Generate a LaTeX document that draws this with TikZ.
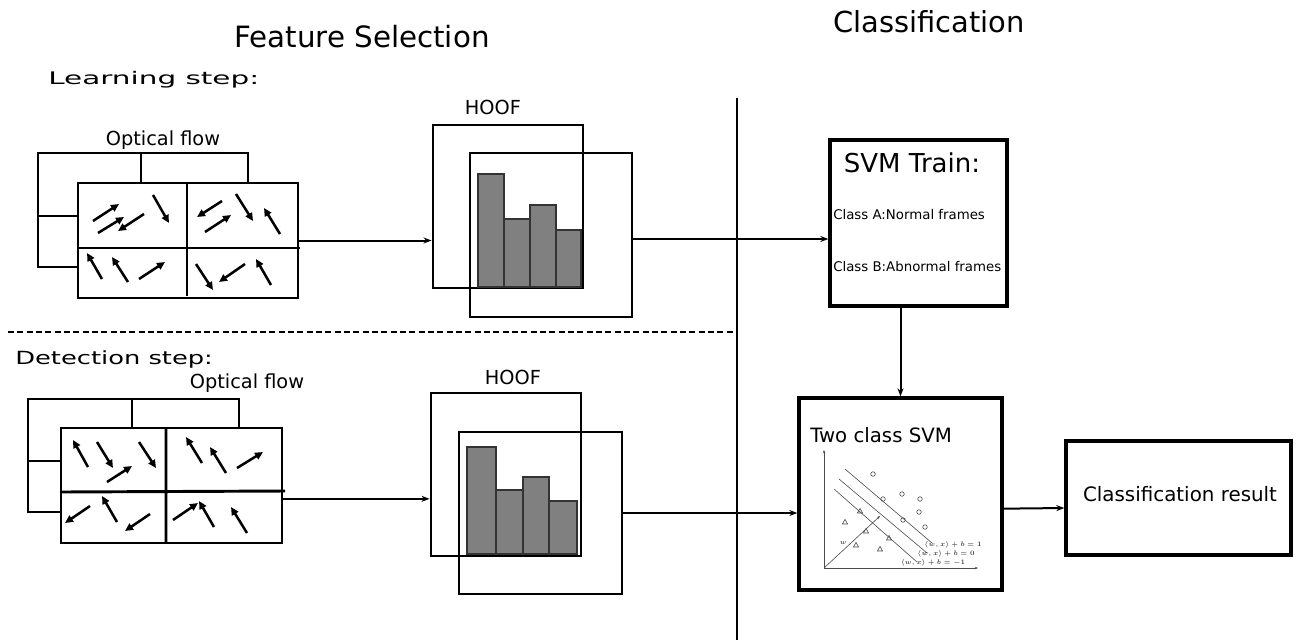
\documentclass[tikz,border=0pt]{standalone}
\usepackage{fontspec}
\setmainfont{DejaVu Sans}
\usetikzlibrary{arrows.meta,fit,calc}
\begin{document}
\begin{tikzpicture}[x=0.75pt,y=-0.75pt,
  hbox/.style={draw,line width=2.2pt,inner sep=0pt},
  frame/.style={hbox,fill=white},
  sbox/.style={draw,line width=2.5pt,inner sep=0pt,fill=white},
  gridline/.style={line width=2.2pt},
  flow/.style={line width=1.9pt,-{Triangle[length=6pt,width=5.5pt]}},
  conn/.style={line width=1.5pt,-{Stealth[length=6pt,width=4.5pt]}},
  bar/.style={draw=black!80,fill=black!50,line width=0.8pt},
  thinl/.style={line width=0.45pt,draw=black!70},
  sep/.style={line width=1.8pt},
  lbl/.style={inner sep=0pt}]
\useasboundingbox (0,0) rectangle (1298,640);

% titles
\node[lbl,font=\fontsize{22pt}{26pt}\selectfont] (tfs) at (362,37) {Feature Selection};
\node[lbl,font=\fontsize{21.7pt}{26pt}\selectfont] (tcl) at (929,22) {Classification};
\node[lbl,anchor=west] (tls) at (48,80) {\scalebox{1.7}[1]{\fontsize{13pt}{15pt}\selectfont Learning step:}};
\node[lbl,anchor=west] (tds) at (15,359) {\scalebox{1.42}[1]{\fontsize{13.6pt}{16pt}\selectfont Detection step:}};

% separators
\draw[sep] (737,98) -- (737,640);
\draw[line width=1.5pt,dash pattern=on 4.5pt off 2.5pt] (8,332) -- (737,332);

% ---------- learning optical flow ----------
\node[lbl,font=\fontsize{14.5pt}{17pt}\selectfont] (tof1) at (163,140) {Optical flow};
\node[hbox,fit={(38,153)(248,267)}] (ob1) {};
\draw[gridline] (141,153) -- (141,183) (38,216) -- (78,216);
\node[frame,fit={(78,183)(298,298)}] (of1) {};
\draw[gridline] (187,183) -- (187,296) (78,248) -- (300,248);
\foreach \a/\b/\c/\d in {93/221/119/204, 98/233/124/217, 144/214/118/231, 153/195/169/223,
  222/201/197/217, 205/232/231/215, 236/194/253/221, 280/234/264/208,
  102/279/87/253, 128/282/112/257, 139/279/165/262,
  196/264/213/290, 245/264/219/282, 271/285/256/259}
  \draw[flow] (\a,\b) -- (\c,\d);

% ---------- learning HOOF ----------
\node[lbl,font=\fontsize{14.5pt}{17pt}\selectfont] (th1) at (493,107) {HOOF};
\node[hbox,fit={(433,125)(583,288)}] (hb1) {};
\node[hbox,fit={(470,153)(632,317)}] (hf1) {};
\draw[bar] (478,287) rectangle (504,174);
\draw[bar] (504,287) rectangle (530,219);
\draw[bar] (530,287) rectangle (556,205);
\draw[bar] (556,287) rectangle (581,230);

% ---------- detection optical flow ----------
\node[lbl,font=\fontsize{14.5pt}{17pt}\selectfont] (tof2) at (247,383) {Optical flow};
\node[hbox,fit={(28,399)(239,512)}] (ob2) {};
\draw[gridline] (132,399) -- (132,428) (28,461) -- (63,461);
\node[frame,fit={(61,428)(282,543)}] (of2) {};
\draw[gridline] (166,428) -- (166,543) (61,492) -- (285,491);
\foreach \a/\b/\c/\d in {88/467/73/440, 97/442/113/468, 107/482/132/466, 139/442/156/468,
  202/463/186/437, 226/473/210/447, 237/468/263/452,
  90/506/65/523, 117/522/102/496, 150/514/125/531,
  173/520/198/503, 214/527/199/501, 247/533/231/507}
  \draw[flow] (\a,\b) -- (\c,\d);

% ---------- detection HOOF ----------
\node[lbl,font=\fontsize{14.5pt}{17pt}\selectfont] (th2) at (513,377) {HOOF};
\node[hbox,fit={(431,393)(581,556)}] (hb2) {};
\node[hbox,fit={(459,432)(622,594)}] (hf2) {};
\draw[bar] (467,554) rectangle (496,447);
\draw[bar] (496,554) rectangle (523,490);
\draw[bar] (523,554) rectangle (549,477);
\draw[bar] (549,554) rectangle (577,501);

% ---------- SVM train ----------
\node[sbox,fit={(830,140)(1007,306)}] (st) {};
\node[lbl,font=\fontsize{19.5pt}{23pt}\selectfont] (tst) at (912,163) {SVM Train:};
\node[lbl,anchor=west,font=\fontsize{10pt}{12pt}\selectfont] (tca) at (833,215) {Class A:Normal frames};
\node[lbl,anchor=west,font=\fontsize{10pt}{12pt}\selectfont] (tcb) at (833,267) {Class B:Abnormal frames};

% ---------- two class SVM ----------
\node[sbox,fit={(799,398)(1002,590)}] (tc) {};
\node[lbl,anchor=west,font=\fontsize{14.8pt}{17pt}\selectfont] (ttc) at (810,435) {Two class SVM};
\draw[thinl,-{Stealth[length=2.5pt,width=2pt]}] (824,568) -- (824,450);
\draw[thinl,-{Stealth[length=2.5pt,width=2pt]}] (824,568) -- (978,568);
\draw[thinl] (845,469) -- (932,543);
\draw[thinl] (839,479) -- (927,553);
\draw[thinl] (834,489) -- (917,562);
\draw[thinl,-{Stealth[length=2.5pt,width=2pt]}] (824,568) -- (880,516);
\foreach \x/\y in {873/474, 883/499, 902/494, 920/499, 919/512, 903/520, 925/527}
  \draw[thinl] (\x,\y) circle (1.7pt);
\foreach \x/\y in {860/511, 845/522, 866/531, 889/538, 856/545, 880/549}
  \draw[thinl] (\x,\y) ++(0,-2.6) -- ++(2.6,4.6) -- ++(-5.2,0) -- cycle;
\node[lbl,font=\fontsize{5pt}{6pt}\selectfont] (tw) at (843,543) {$w$};
\node[lbl,font=\fontsize{5pt}{6pt}\selectfont] (l1) at (953,545) {$\langle w,x\rangle+b=1$};
\node[lbl,font=\fontsize{5pt}{6pt}\selectfont] (l0) at (946,554) {$\langle w,x\rangle+b=0$};
\node[lbl,font=\fontsize{5pt}{6pt}\selectfont] (lm) at (933,563) {$\langle w,x\rangle+b=-1$};

% ---------- result ----------
\node[sbox,fit={(1066,441)(1291,555)}] (res) {};
\node[lbl,font=\fontsize{14.9pt}{17pt}\selectfont] (tres) at (1180,494) {Classification result};

% ---------- connectors ----------
\draw[conn] (of1.east) -- (of1.east -| hb1.west);
\draw[conn] ([yshift=-3pt]hf1.east) -- ([yshift=-3pt]hf1.east -| st.west);
\draw[conn] (tc.north |- st.south) -- (tc.north);
\draw[conn] ([yshift=-10pt]of2.east) -- ([yshift=-10pt]of2.east -| hb2.west);
\draw[conn] (hf2.east) -- (hf2.east -| tc.west);
\draw[conn] ([yshift=-11pt]tc.east) -- ([yshift=-7.5pt]res.west);
\end{tikzpicture}
\end{document}
